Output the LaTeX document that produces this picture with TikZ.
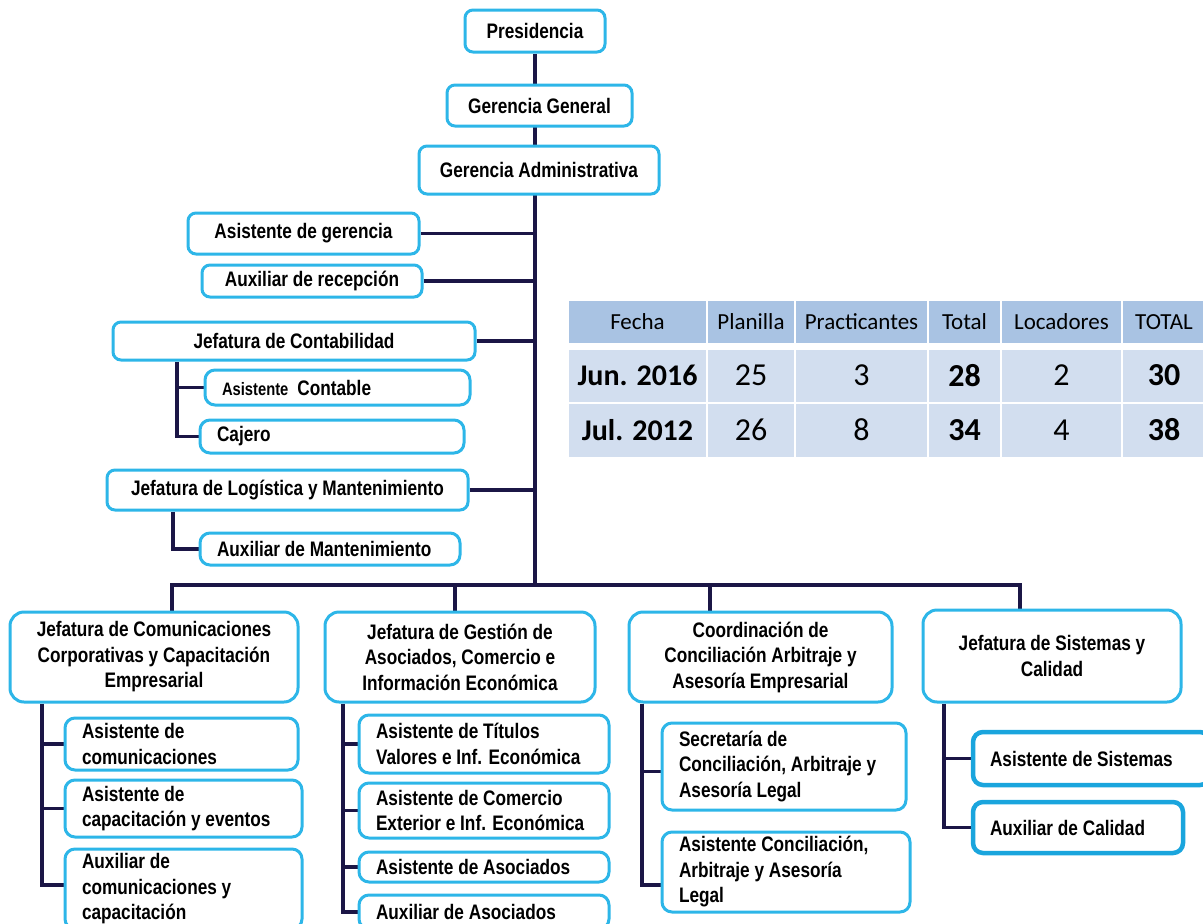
\documentclass[tikz,border=0pt]{standalone}
\usepackage{fontspec}
\setmainfont{Liberation Sans}[FakeStretch=0.82]
\newfontfamily\calib{Carlito}
\usetikzlibrary{backgrounds}
\definecolor{bxc}{HTML}{2DB6E8}
\definecolor{bxd}{HTML}{1AA5DD}
\definecolor{navy}{HTML}{1B1646}
\definecolor{thead}{HTML}{A9C3E3}
\definecolor{trow}{HTML}{D2DEEF}
\begin{document}
\begin{tikzpicture}[x=1pt,y=-1pt,
  box/.style={draw=bxc, line width=3pt, fill=white, rounded corners=8pt,
    font=\bfseries\fontsize{21}{25.5}\selectfont, align=center, inner sep=2pt},
  bigbox/.style={box, rounded corners=14pt},
  cbox/.style={box, rounded corners=10pt, align=flush left, inner xsep=17pt},
  dbox/.style={cbox, draw=bxd, line width=4.5pt},
  conn/.style={draw=navy, line width=3.5pt},
  hcell/.style={fill=thead, draw=white, line width=2pt, inner sep=0pt, text=black,
    font=\calib\fontsize{23}{26}\selectfont},
  rcell/.style={fill=trow, draw=white, line width=2pt, inner sep=0pt, text=black,
    font=\calib\fontsize{32}{36}\selectfont},
  dcell/.style={rcell, font=\calib\bfseries\fontsize{30}{34}\selectfont},
  bcell/.style={rcell, font=\calib\bfseries\fontsize{32}{36}\selectfont},
]
\useasboundingbox (0,0) rectangle (1203,924);
\clip (0,0) rectangle (1203,924);

% top chain
\node[box, minimum width=140pt, minimum height=42pt] (pres) at (535,31) {Presidencia};
\node[box, minimum width=185pt, minimum height=41pt] (gg) at (539.5,105.5) {Gerencia General};
\node[box, minimum width=240pt, minimum height=48pt] (ga) at (539,170) {Gerencia Administrativa};
\node[box, minimum width=231pt, minimum height=41pt] (asg) at (303.5,233.5) {Asistente de gerencia};
\node[box, minimum width=220pt, minimum height=32pt] (arec) at (312,281) {Auxiliar de recepción};
\node[box, minimum width=362pt, minimum height=38pt] (jcont) at (294,341) {Jefatura de Contabilidad};
\node[cbox, text width=231pt, minimum height=35pt] (acont) at (337.5,387.5) {{\fontsize{18}{20}\selectfont Asistente}\hspace{9pt}Contable};
\node[cbox, text width=230pt, minimum height=33pt] (caj) at (332,436.5) {Cajero};
\node[box, minimum width=361pt, minimum height=40pt] (jlog) at (287.5,490) {Jefatura de Logística y Mantenimiento};
\node[cbox, text width=226pt, minimum height=32pt] (amant) at (330,549) {Auxiliar de Mantenimiento};

% second level
\node[bigbox, minimum width=288pt, minimum height=90pt] (b1) at (154,657) {Jefatura de Comunicaciones\\Corporativas y Capacitación\\Empresarial};
\node[bigbox, minimum width=270pt, minimum height=90pt] (b2) at (460,657) {Jefatura de Gestión de\\Asociados, Comercio e\\Información Económica};
\node[bigbox, minimum width=263pt, minimum height=90pt] (b3) at (760.5,657) {Coordinación de\\Conciliación Arbitraje y\\Asesoría Empresarial};
\node[bigbox, minimum width=258pt, minimum height=92pt] (b4) at (1052,656) {Jefatura de Sistemas y\\Calidad};

% children
\node[cbox, text width=199pt, minimum height=52pt] (c11) at (181.5,744) {Asistente de\\comunicaciones};
\node[cbox, text width=203pt, minimum height=57pt] (c12) at (183.5,808.5) {Asistente de\\capacitación y eventos};
\node[cbox, text width=203pt, minimum height=80pt] (c13) at (183.5,889) {Auxiliar de\\comunicaciones y\\capacitación};
\node[cbox, text width=216pt, minimum height=58pt] (c21) at (484,744) {Asistente de Títulos\\Valores e Inf. Económica};
\node[cbox, text width=216pt, minimum height=55pt] (c22) at (484,810.5) {Asistente de Comercio\\Exterior e Inf. Económica};
\node[cbox, text width=216pt, minimum height=30pt] (c23) at (484,867) {Asistente de Asociados};
\node[cbox, text width=216pt, minimum height=34pt] (c24) at (484,912) {Auxiliar de Asociados};
\node[cbox, text width=210pt, minimum height=87pt] (c31) at (784,766.5) {Secretaría de\\Conciliación, Arbitraje y\\Asesoría Legal};
\node[cbox, text width=214pt, minimum height=80pt, inner ysep=1pt] (c32) at (786,872) {Asistente Conciliación,\\Arbitraje y Asesoría\\Legal};
\node[dbox, text width=203pt, minimum height=53pt] (c41) at (1091.5,758.5) {Asistente de Sistemas};
\node[dbox, text width=176pt, minimum height=51pt] (c42) at (1078,827.5) {Auxiliar de Calidad};

% helper coordinates
\coordinate (tb) at (535,585);
\coordinate (d1) at (172,585);
\coordinate (d2) at (455,585);
\coordinate (d3) at (710,585);
\coordinate (d4) at (1020,585);
\coordinate (kc) at (177,0);
\coordinate (kl) at (173,0);
\coordinate (k1) at (42,0);
\coordinate (k2) at (343,0);
\coordinate (k3) at (642,0);
\coordinate (k4) at (944,0);

\begin{scope}[on background layer]
\draw[conn] (pres.south) -- (tb);
\draw[conn] (asg.east) -- (asg.east -| tb);
\draw[conn] (arec.east) -- (arec.east -| tb);
\draw[conn] (jcont.east) -- (jcont.east -| tb);
\draw[conn] (jlog.east) -- (jlog.east -| tb);
\draw[conn] (jcont.south -| kc) -- (caj.west -| kc) -- (caj.west);
\draw[conn] (acont.west -| kc) -- (acont.west);
\draw[conn] (jlog.south -| kl) -- (amant.west -| kl) -- (amant.west);
\draw[conn] (b1.north -| d1) -- (d1) -- (d4) -- (b4.north -| d4);
\draw[conn] (d2) -- (b2.north -| d2);
\draw[conn] (d3) -- (b3.north -| d3);
\draw[conn] (b1.south -| k1) -- ([yshift=4pt]c13.west -| k1) -- ([yshift=4pt]c13.west);
\draw[conn] (c11.west -| k1) -- (c11.west);
\draw[conn] (c12.west -| k1) -- (c12.west);
\draw[conn] (b2.south -| k2) -- (c24.west -| k2) -- (c24.west);
\draw[conn] (c21.west -| k2) -- (c21.west);
\draw[conn] (c22.west -| k2) -- (c22.west);
\draw[conn] (c23.west -| k2) -- (c23.west);
\draw[conn] (b3.south -| k3) -- ([yshift=-13pt]c32.west -| k3) -- ([yshift=-13pt]c32.west);
\draw[conn] ([yshift=-5pt]c31.west -| k3) -- ([yshift=-5pt]c31.west);
\draw[conn] (b4.south -| k4) -- (c42.west -| k4) -- (c42.west);
\draw[conn] (c41.west -| k4) -- (c41.west);
\end{scope}

% table
\node[hcell, minimum width=139pt, minimum height=44pt] (h1) at (637.5,322) {Fecha};
\node[hcell, minimum width=88pt, minimum height=44pt] (h2) at (751,322) {Planilla};
\node[hcell, minimum width=133pt, minimum height=44pt] (h3) at (861.5,322) {Practicantes};
\node[hcell, minimum width=73pt, minimum height=44pt] (h4) at (964.5,322) {Total};
\node[hcell, minimum width=121pt, minimum height=44pt] (h5) at (1061.5,322) {Locadores};
\node[hcell, minimum width=84pt, minimum height=44pt] (h6) at (1164,322) {TOTAL};

\node[dcell, minimum width=139pt, minimum height=54pt] (r11) at (637.5,375.5) {Jun. 2016};
\node[rcell, minimum width=88pt, minimum height=54pt] (r12) at (751,375.5) {25};
\node[rcell, minimum width=133pt, minimum height=54pt] (r13) at (861.5,375.5) {3};
\node[bcell, minimum width=73pt, minimum height=54pt] (r14) at (964.5,375.5) {28};
\node[rcell, minimum width=121pt, minimum height=54pt] (r15) at (1061.5,375.5) {2};
\node[bcell, minimum width=84pt, minimum height=54pt] (r16) at (1164,375.5) {30};

\node[dcell, minimum width=139pt, minimum height=55pt] (r21) at (637.5,430) {Jul. 2012};
\node[rcell, minimum width=88pt, minimum height=55pt] (r22) at (751,430) {26};
\node[rcell, minimum width=133pt, minimum height=55pt] (r23) at (861.5,430) {8};
\node[bcell, minimum width=73pt, minimum height=55pt] (r24) at (964.5,430) {34};
\node[rcell, minimum width=121pt, minimum height=55pt] (r25) at (1061.5,430) {4};
\node[bcell, minimum width=84pt, minimum height=55pt] (r26) at (1164,430) {38};
\end{tikzpicture}
\end{document}
